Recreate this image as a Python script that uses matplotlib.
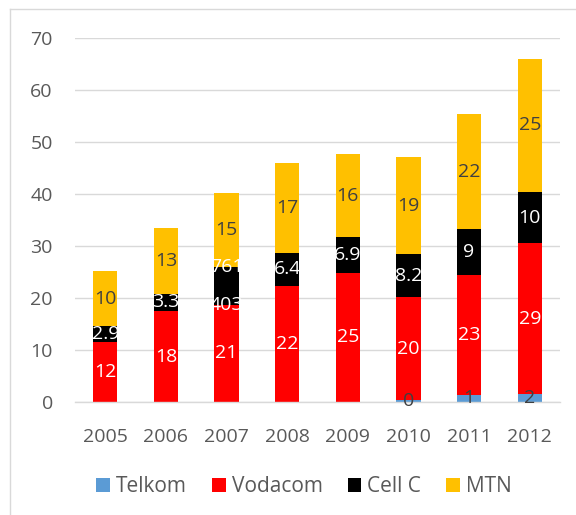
import numpy as np
import matplotlib.pyplot as plt
from matplotlib.patches import Rectangle
from matplotlib.lines import Line2D

plt.rcParams['font.family'] = ['Open Sans', 'DejaVu Sans']

years = ['2005', '2006', '2007', '2008', '2009', '2010', '2011', '2012']

# segment heights
telkom = [0, 0, 0, 0, 0, 0.3, 1.4, 1.5]
vodacom = [11.6, 17.5, 18.7, 22.3, 24.9, 19.9, 23.0, 29.0]
cellc = [3.0, 3.3, 7.3, 6.4, 6.8, 8.2, 8.9, 9.9]
mtn = [10.5, 12.7, 14.2, 17.2, 16.0, 18.7, 22.0, 25.6]

# data label texts as printed on the chart
telkom_lbl = ['', '', '', '', '', '0', '1', '2']
vodacom_lbl = ['12', '18', '21', '22', '25', '20', '23', '29']
cellc_lbl = ['2.9', '3.3', '', '6.4', '6.9', '8.2', '9', '10']
mtn_lbl = ['10', '13', '15', '17', '16', '19', '22', '25']

series = [
    ('Telkom', telkom, telkom_lbl, '#5B9BD5', '#404040'),
    ('Vodacom', vodacom, vodacom_lbl, '#FF0000', 'white'),
    ('Cell C', cellc, cellc_lbl, '#000000', 'white'),
    ('MTN', mtn, mtn_lbl, '#FFC000', '#404040'),
]

W, H = 576, 515
fig = plt.figure(figsize=(W / 100, H / 100), dpi=100)
ax = fig.add_axes([75 / W, 1 - 402 / H, 485 / W, 364 / H])

x = np.arange(len(years))
width = 0.4
bottom = np.zeros(len(years))


def add_label(xi, y, txt, color, clip=False):
    t = ax.text(xi, y, txt, ha='center', va='center', color=color, fontsize=14)
    if clip:
        # labels wider than the bar get cut at the bar edges
        box = Rectangle((xi - width / 2, -20), width, 100, transform=ax.transData)
        t.set_clip_path(box)
    else:
        t.set_clip_on(False)


for name, vals, lbls, col, tcol in series:
    vals = np.array(vals)
    ax.bar(x, vals, width, bottom=bottom, color=col, label=name, zorder=2)
    for i in range(len(years)):
        if lbls[i]:
            add_label(x[i], bottom[i] + vals[i] / 2, lbls[i], tcol,
                      clip=(tcol == 'white'))
    bottom = bottom + vals

# 2007 Cell C carries two odd labels at its edges
i = 2
base = telkom[i] + vodacom[i]
add_label(x[i], base + cellc[i], '761', 'white', clip=True)
add_label(x[i], base, '403', 'white', clip=True)

ax.set_xlim(-0.5, len(years) - 0.5)
ax.set_ylim(0, 70)
ax.set_yticks(range(0, 71, 10))
ax.set_xticks(x)
ax.set_xticklabels(years)
ax.tick_params(axis='both', length=0, labelsize=14, colors='#595959')
ax.tick_params(axis='y', pad=16)
ax.tick_params(axis='x', pad=19)
ax.grid(axis='y', color='#D9D9D9', linewidth=1.0, zorder=0)
ax.set_axisbelow(True)
for s in ['top', 'right', 'left']:
    ax.spines[s].set_visible(False)
ax.spines['bottom'].set_color('#D9D9D9')
ax.spines['bottom'].set_linewidth(1.0)

fig.legend(loc='center', bbox_to_anchor=(0.528, 1 - 487 / H), ncol=4,
           frameon=False, fontsize=15, labelcolor='#595959',
           handlelength=0.65, handleheight=0.65, handletextpad=0.3,
           columnspacing=1.2)

# chart frame (only left and top edges fall inside the picture)
fig.add_artist(Line2D([10 / W, 10 / W], [0, 1 - 9 / H], color='#D9D9D9', lw=1))
fig.add_artist(Line2D([10 / W, 1], [1 - 9 / H, 1 - 9 / H], color='#D9D9D9', lw=1))

fig.savefig('out.png', dpi=100)
